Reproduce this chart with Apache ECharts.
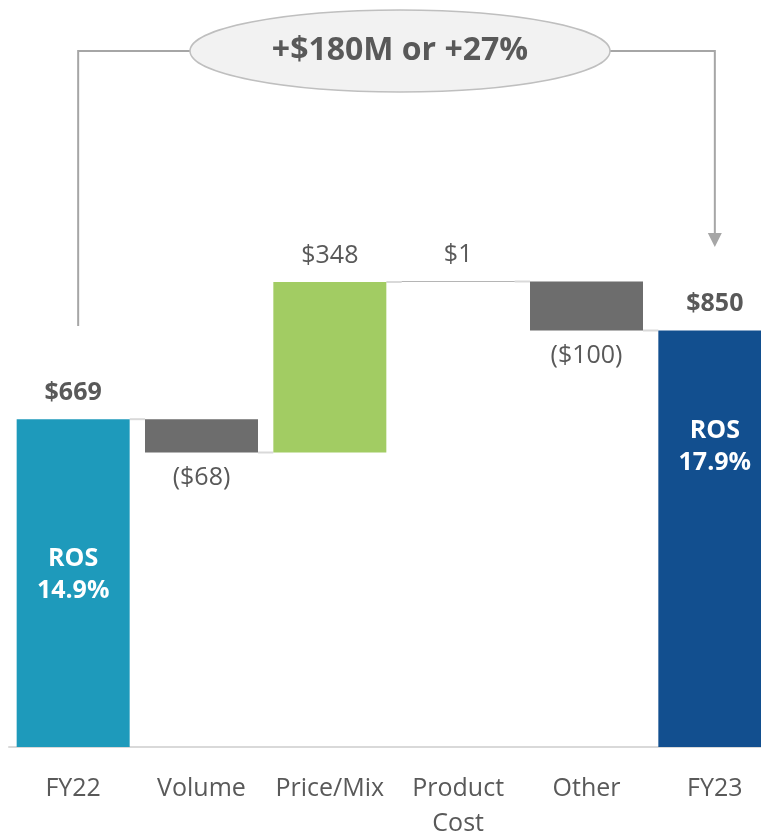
<!DOCTYPE html>
<html>
<head>
<meta charset="utf-8">
<script src="https://cdn.jsdelivr.net/npm/echarts@6/dist/echarts.min.js"></script>
<style>
  html, body { margin: 0; padding: 0; background: #fff; }
  #chart { width: 761px; height: 838px; }
</style>
</head>
<body>
<div id="chart"></div>
<script>
// waterfall data ($M)
var categories = ['FY22', 'Volume', 'Price/Mix', 'Product\nCost', 'Other', 'FY23']
var steps = [669, -68, 348, 1, -100, 850]
var isTotal = [true, false, false, false, false, true]
var valueLabels = ['$669', '($68)', '$348', '$1', '($100)', '$850']
var rosLabels = ['ROS\n14.9%', '', '', '', '', 'ROS\n17.9%']
var barColors = ['#1e9abb', '#6d6d6d', '#a2cc63', '#6d6d6d', '#6d6d6d', '#124f8f']
var headline = '+$180M or +27%'

var grey = '#595959'
var font = '"Open Sans", "Noto Sans", sans-serif'

// build invisible base + visible bar from the steps
var base = []
var height = []
var levels = []
var running = 0
steps.forEach(function(v, i) {
  if (isTotal[i]) {
    base.push(0)
    height.push(v)
    running = v
  } else {
    var next = running + v
    base.push(Math.min(running, next))
    height.push(Math.abs(v))
    running = next
  }
  levels.push(running)
})

var barData = height.map(function(h, i) {
  var up = isTotal[i] || steps[i] > 0
  return {
    value: h,
    itemStyle: { color: barColors[i] },
    label: {
      show: true,
      position: up ? 'top' : 'bottom',
      distance: up ? 14 : 13,
      formatter: valueLabels[i],
      fontSize: 25,
      fontFamily: font,
      fontWeight: isTotal[i] ? 'bold' : 'normal',
      color: grey
    }
  }
})

var chart = echarts.init(document.getElementById('chart'))
chart.setOption({
  animation: false,
  grid: { left: 9, width: 770, top: 257, bottom: 91, outerBoundsMode: 'none', containLabel: false },
  xAxis: {
    type: 'category',
    data: categories,
    axisTick: { show: false },
    axisLine: { lineStyle: { color: '#d9d9d9', width: 2 } },
    axisLabel: {
      interval: 0,
      margin: 24,
      fontSize: 25,
      lineHeight: 35,
      fontFamily: font,
      color: grey
    }
  },
  yAxis: {
    type: 'value',
    min: 0,
    max: 1000,
    show: false
  },
  series: [
    {
      type: 'bar',
      stack: 'wf',
      barWidth: 113,
      itemStyle: { color: 'transparent' },
      data: base,
      silent: true
    },
    {
      type: 'bar',
      stack: 'wf',
      barWidth: 113,
      data: barData
    },
    {
      // ROS text inside the total bars
      type: 'custom',
      data: rosLabels.map(function(t, i) { return [i, levels[i], t] }),
      renderItem: function(params, api) {
        var txt = api.value(2)
        if (!txt) return
        var i = api.value(0)
        var p = api.coord([i, api.value(1)])
        var off = i === 0 ? 124 : 84
        return {
          type: 'text',
          style: {
            x: p[0], y: p[1] + off,
            text: rosLabels[i],
            fill: '#fff',
            font: 'bold 25px ' + font,
            align: 'center',
            verticalAlign: 'top',
            lineHeight: 32
          }
        }
      },
      z: 5
    },
    {
      // connector lines between bars
      type: 'custom',
      data: levels.slice(0, -1).map(function(l, i) { return [i, l] }),
      renderItem: function(params, api) {
        var i = api.value(0)
        var a = api.coord([i, api.value(1)])
        var b = api.coord([i + 1, api.value(1)])
        var half = 113 / 2
        return {
          type: 'line',
          shape: { x1: a[0] + half, y1: a[1], x2: b[0] - half, y2: b[1] },
          style: { stroke: '#d9d9d9', lineWidth: 2 }
        }
      },
      z: 1
    }
  ]
})

// headline bracket from FY22 to FY23
var pL = chart.convertToPixel({ xAxisIndex: 0, yAxisIndex: 0 }, [0, 0])
var pR = chart.convertToPixel({ xAxisIndex: 0, yAxisIndex: 0 }, [5, 0])
var xl = pL[0] + 5
var xr = pR[0]
var yTop = 51
var ex = 400, ey = 51, erx = 210, ery = 41
var lineStyle = { stroke: '#a6a6a6', lineWidth: 2, fill: null }

chart.setOption({
  graphic: [
    { type: 'polyline', shape: { points: [[xl, 326], [xl, yTop], [ex - erx, yTop]] }, style: lineStyle },
    { type: 'polyline', shape: { points: [[ex + erx, yTop], [xr, yTop], [xr, 236]] }, style: lineStyle },
    { type: 'polygon', shape: { points: [[xr - 7, 233], [xr + 7, 233], [xr, 247]] }, style: { fill: '#a6a6a6' } },
    {
      type: 'ellipse',
      shape: { cx: ex, cy: ey, rx: erx, ry: ery },
      style: { fill: '#f2f2f2', stroke: '#bfbfbf', lineWidth: 1.5 }
    },
    {
      type: 'text',
      x: ex, y: ey,
      style: {
        text: headline,
        font: 'bold 32px ' + font,
        fill: grey,
        align: 'center',
        verticalAlign: 'middle'
      }
    }
  ]
})
</script>
</body>
</html>
